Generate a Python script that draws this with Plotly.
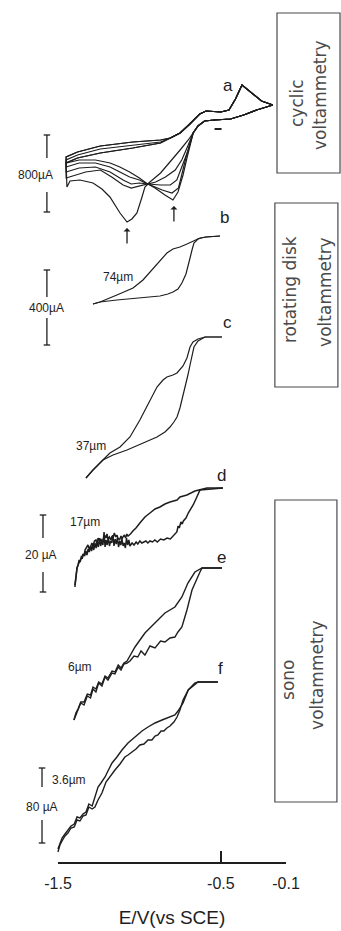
import plotly.graph_objects as go

INK = "#1e1e1e"
GREY = "#4a4a4a"
FONT = "Liberation Sans, Arial, sans-serif"

# ---------------- axis ----------------
tick_vals = [-1.5, -0.5, -0.1]
tick_text = ["-1.5", "-0.5", "-0.1"]
axis_title = "E/V(vs SCE)"

# ---------------- curves: labels & baselines ----------------
curve_labels = ["a", "b", "c", "d", "e", "f"]
curve_offsets = [801, 694, 594, 443, 363, 249]

# ---------------- (a) cyclic voltammetry, 5 cycles ----------------
cv_start_E = [-0.18, -0.28, -0.36, -0.44, -0.54, -0.60, -0.64, -0.67]
cv_start_i = [25, 20, 15, 11, 10, 9, 4, -3]

cyc1_E = [-0.70, -0.75, -0.81, -0.87, -0.95, -1.00, -1.06, -1.12, -1.18, -1.27, -1.37, -1.45]
cyc1_i = [-10, -20, -32, -43, -54, -48, -42, -37, -33, -30, -30, -33]
cyc2_E = [-0.70, -0.74, -0.78, -0.84, -0.90, -0.95, -1.00, -1.06, -1.12, -1.18, -1.27, -1.37, -1.45]
cyc2_i = [-15, -30, -40, -47, -52, -54, -50, -47, -42, -37, -33, -33, -37]
cyc3_E = [-0.70, -0.74, -0.77, -0.81, -0.87, -0.95, -1.00, -1.05, -1.10, -1.18, -1.27, -1.37, -1.45]
cyc3_i = [-20, -38, -50, -55, -55, -54, -53, -54, -50, -42, -37, -38, -42]
cyc4_E = [-0.71, -0.74, -0.76, -0.80, -0.86, -0.95, -1.00, -1.05, -1.10, -1.17, -1.24, -1.33, -1.45]
cyc4_i = [-25, -45, -58, -63, -60, -54, -56, -58, -55, -47, -40, -42, -48]
cyc5_E = [-0.708, -0.732, -0.763, -0.794, -0.843, -0.904, -0.947, -0.966, -0.984, -1.015,
          -1.046, -1.076, -1.119, -1.150, -1.181, -1.230, -1.285, -1.365, -1.426, -1.445]
cyc5_i = [-28, -45, -62, -70, -65, -58, -54, -57, -67, -83,
          -89, -92, -83, -75, -67, -59, -53, -50, -51, -57]

top_left_E = [-1.45, -1.38, -1.24, -1.04, -0.87]
topA_i = [-27, -22, -16, -12, -10]
topB_i = [-30, -25, -19, -15, -12]
topC_i = [-33, -28, -23, -18, -13]
top_right_E = [-0.81, -0.75, -0.69, -0.63, -0.59, -0.50, -0.45, -0.41, -0.37, -0.32, -0.25, -0.18]
top_right_i = [-8, -3, 6, 16, 19, 18, 20, 31, 45, 38, 29, 25]

# ---------------- (b) RDV 74 um ----------------
b_up_E = [-1.285, -1.242, -1.138, -1.039, -0.978, -0.923, -0.874, -0.831, -0.794, -0.751,
          -0.708, -0.671, -0.628, -0.585, -0.505]
b_up_i = [-67, -65, -58, -51, -43, -33, -23, -16, -12, -10, -7, -4, -1, 0, 1]
b_lo_E = [-1.285, -1.242, -1.138, -0.997, -0.874, -0.825, -0.794, -0.763, -0.739, -0.714,
          -0.702, -0.689, -0.677, -0.665, -0.640, -0.597, -0.505]
b_lo_i = [-67, -65, -63, -61, -59, -57, -55, -52, -46, -37, -28, -21, -13, -6, -2, 0, 1]

# ---------------- (c) RDV 37 um ----------------
c_up_E = [-1.328, -1.285, -1.224, -1.181, -1.119, -1.058, -0.997, -0.935, -0.892, -0.855,
          -0.831, -0.794, -0.769, -0.732, -0.708, -0.689, -0.671, -0.640, -0.597, -0.493]
c_up_i = [-141, -133, -123, -116, -110, -100, -83, -63, -50, -43,
          -40, -38, -36, -29, -21, -10, -5, -2, 0, 0]
c_lo_E = [-1.328, -1.285, -1.224, -1.162, -1.076, -0.978, -0.892, -0.843, -0.812, -0.788,
          -0.769, -0.751, -0.739, -0.720, -0.702, -0.689, -0.677, -0.665, -0.640, -0.597, -0.493]
c_lo_i = [-141, -133, -123, -118, -113, -106, -100, -95, -90, -85,
          -80, -71, -63, -53, -38, -28, -18, -10, -4, 0, 0]

# ---------------- (d) sonovoltammetry 17 um ----------------
d_up_E = [-1.396, -1.389, -1.383, -1.374, -1.365, -1.356, -1.346, -1.340, -1.334, -1.325,
          -1.316, -1.308, -1.300, -1.292, -1.285, -1.276, -1.267, -1.260, -1.254, -1.245,
          -1.236, -1.230, -1.224, -1.214, -1.205, -1.199, -1.193, -1.184, -1.175, -1.168,
          -1.162, -1.154, -1.145, -1.138, -1.132, -1.122, -1.113, -1.107, -1.101, -1.092,
          -1.085, -1.077, -1.070, -1.055, -1.040, -1.021, -0.997, -0.966, -0.935, -0.904,
          -0.874, -0.843, -0.812, -0.769, -0.751, -0.708, -0.659, -0.585, -0.487]
d_up_i = [-97, -86, -80, -76, -72, -70, -66, -68, -62, -60,
          -57, -61, -59, -55, -58, -53, -52, -56, -50, -53,
          -51, -55, -52, -47, -50, -46, -51, -49, -52, -48,
          -50, -45, -49, -47, -50, -52, -48, -51, -49, -47,
          -50, -46, -48, -46, -43, -40, -35, -29, -25, -21,
          -19, -16, -14, -12, -9, -7, -3, 0, 0]
d_lo_E = [-1.396, -1.392, -1.388, -1.383, -1.377, -1.370, -1.364, -1.357, -1.350, -1.343,
          -1.336, -1.329, -1.322, -1.315, -1.308, -1.301, -1.294, -1.287, -1.280, -1.273,
          -1.266, -1.259, -1.252, -1.245, -1.238, -1.231, -1.224, -1.217, -1.211, -1.205,
          -1.198, -1.191, -1.184, -1.177, -1.170, -1.163, -1.156, -1.149, -1.142, -1.135,
          -1.128, -1.121, -1.114, -1.107, -1.100, -1.093, -1.086, -1.079, -1.072, -1.065,
          -1.058, -1.045, -1.033, -1.020, -1.010, -0.997, -0.985, -0.972, -0.960, -0.948,
          -0.935, -0.920, -0.905, -0.890, -0.870, -0.850, -0.830, -0.810, -0.794, -0.780,
          -0.770, -0.762, -0.755, -0.745, -0.737, -0.730, -0.714, -0.700, -0.685, -0.670,
          -0.650, -0.628, -0.487]
d_lo_i = [-99, -90, -85, -80, -77, -72, -74, -69, -70, -66,
          -68, -63, -67, -61, -64, -58, -63, -57, -62, -55,
          -60, -54, -59, -50, -58, -53, -57, -44, -59, -52,
          -57, -49, -58, -53, -55, -47, -58, -51, -56, -50,
          -59, -53, -57, -51, -58, -55, -60, -50, -57, -52,
          -58, -55, -57, -54, -56, -53, -55, -54, -53, -55,
          -53, -54, -52, -54, -51, -52, -50, -51, -48, -46,
          -44, -38, -40, -34, -36, -33, -30, -25, -21, -17,
          -10, -2, 0]

# ---------------- (e) sonovoltammetry 6 um ----------------
e_up_E = [-1.402, -1.390, -1.377, -1.360, -1.340, -1.320, -1.300, -1.285, -1.267, -1.250,
          -1.230, -1.211, -1.193, -1.168, -1.150, -1.130, -1.113, -1.095, -1.076, -1.027,
          -0.966, -0.904, -0.843, -0.782, -0.739, -0.702, -0.659, -0.615, -0.493]
e_up_i = [-152, -145, -141, -134, -134, -126, -127, -119, -121, -114,
          -116, -108, -110, -103, -104, -97, -100, -95, -93, -79,
          -65, -55, -45, -39, -29, -15, -4, 0, 0]
e_lo_E = [-1.402, -1.390, -1.377, -1.360, -1.340, -1.320, -1.300, -1.285, -1.267, -1.250,
          -1.230, -1.211, -1.193, -1.168, -1.150, -1.130, -1.113, -1.095, -1.076, -1.058,
          -1.033, -1.010, -0.990, -0.966, -0.935, -0.904, -0.870, -0.843, -0.812, -0.782,
          -0.763, -0.739, -0.708, -0.677, -0.628, -0.615, -0.493]
e_lo_i = [-152, -147, -142, -135, -137, -128, -130, -121, -124, -115,
          -118, -109, -112, -105, -106, -99, -102, -96, -95, -93,
          -88, -89, -83, -87, -78, -80, -73, -74, -70, -69,
          -64, -59, -42, -22, -4, 0, 0]

# ---------------- (f) sonovoltammetry 3.6 um ----------------
f_up_E = [-1.500, -1.488, -1.475, -1.457, -1.439, -1.420, -1.400, -1.383, -1.365, -1.346,
          -1.328, -1.310, -1.290, -1.273, -1.254, -1.236, -1.211, -1.193, -1.168, -1.138,
          -1.107, -1.070, -1.027, -0.984, -0.947, -0.904, -0.861, -0.825, -0.782, -0.763,
          -0.732, -0.700, -0.660, -0.640, -0.518]
f_up_i = [-167, -161, -156, -152, -148, -144, -142, -135, -136, -132,
          -130, -122, -124, -115, -105, -101, -95, -89, -81, -75,
          -68, -61, -55, -49, -45, -41, -38, -36, -33, -29,
          -21, -8, -1, 0, 0]
f_lo_E = [-1.500, -1.488, -1.475, -1.457, -1.439, -1.420, -1.400, -1.383, -1.365, -1.346,
          -1.328, -1.310, -1.290, -1.273, -1.254, -1.230, -1.205, -1.180, -1.150, -1.119,
          -1.089, -1.070, -1.046, -1.021, -0.997, -0.972, -0.947, -0.923, -0.904, -0.886,
          -0.867, -0.850, -0.831, -0.812, -0.788, -0.769, -0.751, -0.732, -0.700, -0.640, -0.518]
f_lo_i = [-170, -163, -159, -154, -151, -146, -145, -138, -139, -134,
          -133, -125, -127, -125, -118, -111, -100, -94, -88, -82,
          -75, -73, -70, -67, -63, -62, -58, -58, -54, -53,
          -49, -49, -46, -44, -40, -35, -28, -18, -8, 0, 0]

# ---------------- text labels ----------------
size_labels = ["74µm", "37µm", "17µm", "6µm", "3.6µm"]
scale_labels = ["800µA", "400µA", "20 µA", "80 µA"]
box_titles = [["cyclic", "voltammetry"], ["rotating disk", "voltammetry"], ["sono", "voltammetry"]]

fig = go.Figure()


def add_curve(E, cur, off, width=1.2):
    fig.add_trace(go.Scatter(x=E, y=[off + v for v in cur], mode="lines",
                             line=dict(color=INK, width=width),
                             hoverinfo="skip", showlegend=False))


# (a) cycles
off_a = curve_offsets[0]
for cyc_E, cyc_i, top_i in [(cyc1_E, cyc1_i, topA_i), (cyc2_E, cyc2_i, topA_i),
                            (cyc3_E, cyc3_i, topB_i), (cyc4_E, cyc4_i, topC_i),
                            (cyc5_E, cyc5_i, topC_i)]:
    add_curve(cv_start_E + cyc_E + top_left_E + top_right_E,
              cv_start_i + cyc_i + top_i + top_right_i, off_a, 1.2)

# small dash near curve a
fig.add_trace(go.Scatter(x=[-0.517], y=[off_a + 1], mode="markers",
                         marker=dict(symbol="line-ew", size=5, line=dict(color=INK, width=2)),
                         hoverinfo="skip", showlegend=False))

add_curve(b_up_E, b_up_i, curve_offsets[1])
add_curve(b_lo_E, b_lo_i, curve_offsets[1])
add_curve(c_up_E, c_up_i, curve_offsets[2])
add_curve(c_lo_E, c_lo_i, curve_offsets[2])
add_curve(d_up_E, d_up_i, curve_offsets[3], 1.5)
add_curve(d_lo_E, d_lo_i, curve_offsets[3], 1.5)
add_curve(e_up_E, e_up_i, curve_offsets[4], 1.4)
add_curve(e_lo_E, e_lo_i, curve_offsets[4], 1.4)
add_curve(f_up_E, f_up_i, curve_offsets[5], 1.4)
add_curve(f_lo_E, f_lo_i, curve_offsets[5], 1.4)

# invisible trace that carries the visible E axis (own thin subplot)
fig.add_trace(go.Scatter(x=[-1.5, -0.1], y=[0, 0], xaxis="x2", yaxis="y2", mode="lines",
                         line=dict(width=0), opacity=0, hoverinfo="skip", showlegend=False))

annotations = []
letter_pos = [(-0.456, 846), (-0.475, 714), (-0.462, 609), (-0.493, 456), (-0.493, 374), (-0.505, 263)]
for lab, (x, y) in zip(curve_labels, letter_pos):
    annotations.append(dict(x=x, y=y, text=lab, showarrow=False, font=dict(family=FONT, size=17, color=INK)))

size_pos = [(-1.132, 654), (-1.297, 485), (-1.334, 409), (-1.365, 264), (-1.432, 151)]
for lab, (x, y) in zip(size_labels, size_pos):
    annotations.append(dict(x=x, y=y, text=lab, showarrow=False, font=dict(family=FONT, size=12, color=INK)))

# scale bars: x, top, gap top, gap bottom, bottom, label x, label y
bars = [(-1.568, 796, 773, 739, 719, -1.635, 756),
        (-1.568, 661, 634, 613, 586, -1.568, 623),
        (-1.592, 416, 393, 359, 339, -1.604, 376),
        (-1.598, 163, 144, 111, 88, -1.598, 124)]
shapes = []
cap = 0.02
for (bx, yt, yg1, yg2, yb, lx, ly), lab in zip(bars, scale_labels):
    for y0, y1 in [(yt, yg1), (yg2, yb)]:
        shapes.append(dict(type="line", x0=bx, x1=bx, y0=y0, y1=y1, xref="x", yref="y",
                           line=dict(color=INK, width=1.3)))
    for yc in [yt, yb]:
        shapes.append(dict(type="line", x0=bx - cap, x1=bx + cap, y0=yc, y1=yc, xref="x", yref="y",
                           line=dict(color=INK, width=1.3)))
    annotations.append(dict(x=lx, y=ly, text=lab, showarrow=False, font=dict(family=FONT, size=12, color=INK)))

for ax_, ay_ in [(-1.076, 703), (-0.788, 725)]:
    annotations.append(dict(x=ax_, y=ay_, ax=0, ay=17, text="", showarrow=True, arrowhead=1,
                            arrowsize=0.9, arrowwidth=1.3, arrowcolor=INK))

boxes = [(-0.155, 0.232, 758, 918), (-0.168, 0.219, 544, 728), (-0.168, 0.213, 129, 431)]
box_text_pos = [[(-0.032, 828), (0.109, 836)], [(-0.075, 641), (0.139, 639)], [(-0.088, 251), (0.090, 256)]]
for (x0, x1, y0, y1), titles, poss in zip(boxes, box_titles, box_text_pos):
    shapes.append(dict(type="rect", x0=x0, x1=x1, y0=y0, y1=y1, xref="x", yref="y",
                       line=dict(color=GREY, width=1.2)))
    for t, (tx, ty) in zip(titles, poss):
        annotations.append(dict(x=tx, y=ty, text=t, textangle=-90, showarrow=False,
                                font=dict(family="DejaVu Sans, sans-serif", size=17, color=GREY)))

fig.update_layout(
    width=341, height=931, autosize=False,
    margin=dict(l=0, r=0, t=0, b=0, pad=0),
    paper_bgcolor="white", plot_bgcolor="rgba(0,0,0,0)",
    xaxis=dict(range=[-1.856, 0.238], visible=False, domain=[0, 1], fixedrange=True),
    yaxis=dict(range=[0, 931], visible=False, domain=[0, 1], fixedrange=True),
    xaxis2=dict(domain=[0.1701, 0.8387], range=[-1.5, -0.1], anchor="y2",
                showline=True, linecolor=INK, linewidth=1.6, ticks="inside", ticklen=11,
                tickwidth=1.6, tickcolor=INK, tickvals=tick_vals, ticktext=tick_text,
                showgrid=False, zeroline=False, ticklabelstandoff=6, automargin=False,
                tickfont=dict(family=FONT, size=16, color=INK),
                title=dict(text=axis_title, font=dict(family=FONT, size=19, color=INK), standoff=20)),
    yaxis2=dict(domain=[0.0741, 0.09], visible=False, range=[0, 1], anchor="x2"),
    shapes=shapes, annotations=annotations,
)

fig.write_html("out.html", config={"responsive": False, "displayModeBar": False},
               post_script="document.body.style.margin='0px';")
